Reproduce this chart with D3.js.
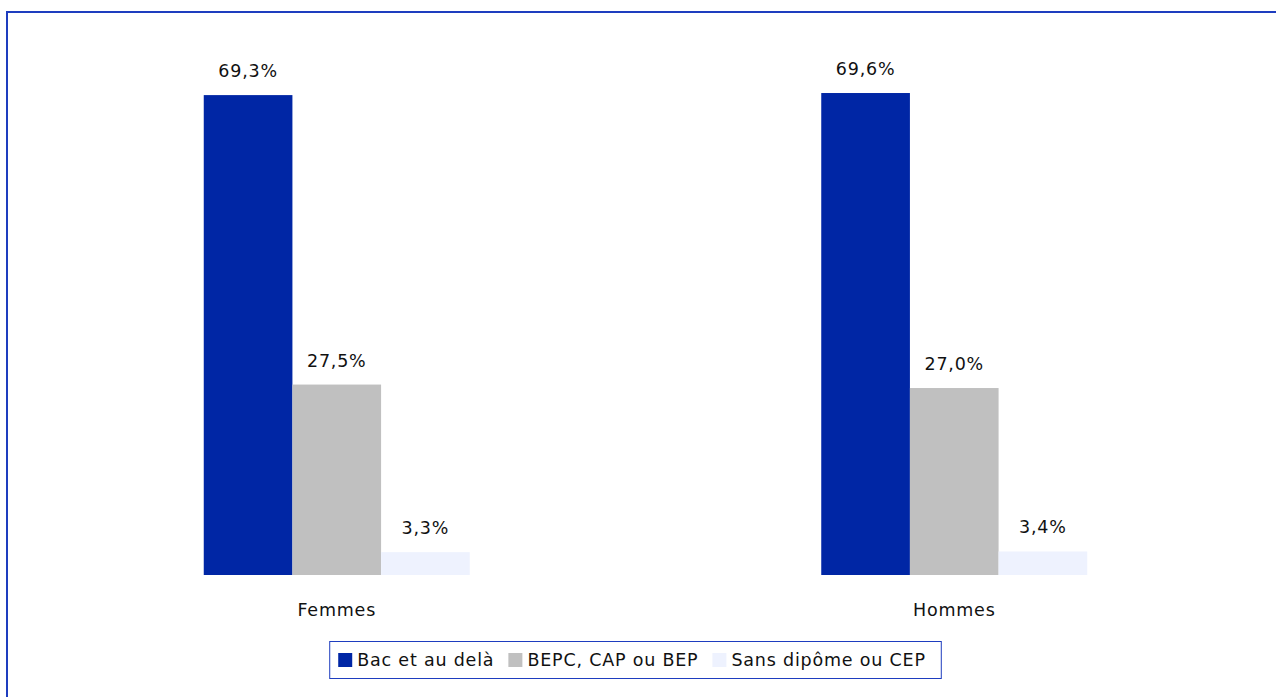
<!DOCTYPE html>
<html>
<head>
<meta charset="utf-8">
<script src="https://cdn.jsdelivr.net/npm/d3@7"></script>
<style>
  html, body { margin: 0; padding: 0; background: #fff; }
  svg { display: block; font-family: "DejaVu Sans", sans-serif; }
</style>
</head>
<body>
<div id="chart"></div>
<script>
const categories = ['Femmes', 'Hommes'];
const series = ['Bac et au delà', 'BEPC, CAP ou BEP', 'Sans dipôme ou CEP'];
const colors = ['#0026A5', '#C0C0C0', '#EEF2FE'];
const values = {
    'Femmes': [69.3, 27.5, 3.3],
    'Hommes': [69.6, 27.0, 3.4]
};

const width = 1276, height = 697;
const fontSize = 17.5;
const spacing = 0.8;
const svg = d3.select('#chart').append('svg')
    .attr('width', width).attr('height', height);

// outer frame (right and bottom edges fall outside the picture)
svg.append('rect')
    .attr('x', 7).attr('y', 12)
    .attr('width', width + 20).attr('height', height + 20)
    .attr('fill', 'none').attr('stroke', '#1E3DBF').attr('stroke-width', 2);

const baseY = 575;
const x = d3.scaleBand().domain(categories).range([28, 1263]).padding(0);
const groupW = 266;
const xs = d3.scaleBand().domain(series).range([0, groupW]).padding(0);
const y = d3.scaleLinear().domain([0, 80]).range([baseY, baseY - 554]);

const groups = svg.append('g').selectAll('g.group')
    .data(categories).join('g')
    .attr('class', 'group')
    .attr('transform', c => `translate(${x(c) + x.bandwidth() / 2 - groupW / 2},0)`);

groups.selectAll('rect')
    .data(c => values[c].map((v, i) => ({ key: series[i], v, i })))
    .join('rect')
    .attr('x', d => xs(d.key))
    .attr('y', d => y(d.v))
    .attr('width', xs.bandwidth())
    .attr('height', d => y(0) - y(d.v))
    .attr('fill', d => colors[d.i]);

groups.selectAll('text.val')
    .data(c => values[c].map((v, i) => ({ key: series[i], v, i })))
    .join('text')
    .attr('class', 'val')
    .attr('x', d => xs(d.key) + xs.bandwidth() / 2)
    .attr('y', d => y(d.v) - 18)
    .attr('text-anchor', 'middle')
    .attr('font-size', fontSize)
    .attr('letter-spacing', spacing)
    .attr('fill', '#111')
    .text(d => d3.format('.1f')(d.v).replace('.', ',') + '%');

// category labels
svg.append('g').selectAll('text')
    .data(categories).join('text')
    .attr('x', c => x(c) + x.bandwidth() / 2)
    .attr('y', 616)
    .attr('text-anchor', 'middle')
    .attr('font-size', fontSize)
    .attr('letter-spacing', spacing)
    .attr('fill', '#111')
    .text(c => c);

// legend
const legend = svg.append('g');
const legBox = legend.append('rect')
    .attr('fill', '#fff').attr('stroke', '#1E3DBF').attr('stroke-width', 1);
let cx = 0;
series.forEach((s, i) => {
    const item = legend.append('g').attr('transform', `translate(${cx},0)`);
    item.append('rect').attr('x', 0).attr('y', -7).attr('width', 14).attr('height', 14)
        .attr('fill', colors[i]);
    const t = item.append('text').attr('x', 19).attr('y', 6)
        .attr('font-size', fontSize).attr('letter-spacing', spacing)
        .attr('fill', '#111').text(s);
    cx += 19 + t.node().getComputedTextLength() + 14;
});
const legW = cx - 14;
const lx = 635 - (legW + 6) / 2;
legend.attr('transform', `translate(${lx},660)`);
legBox.attr('x', -8.5).attr('y', -18.5).attr('width', legW + 24).attr('height', 37);
</script>
</body>
</html>
